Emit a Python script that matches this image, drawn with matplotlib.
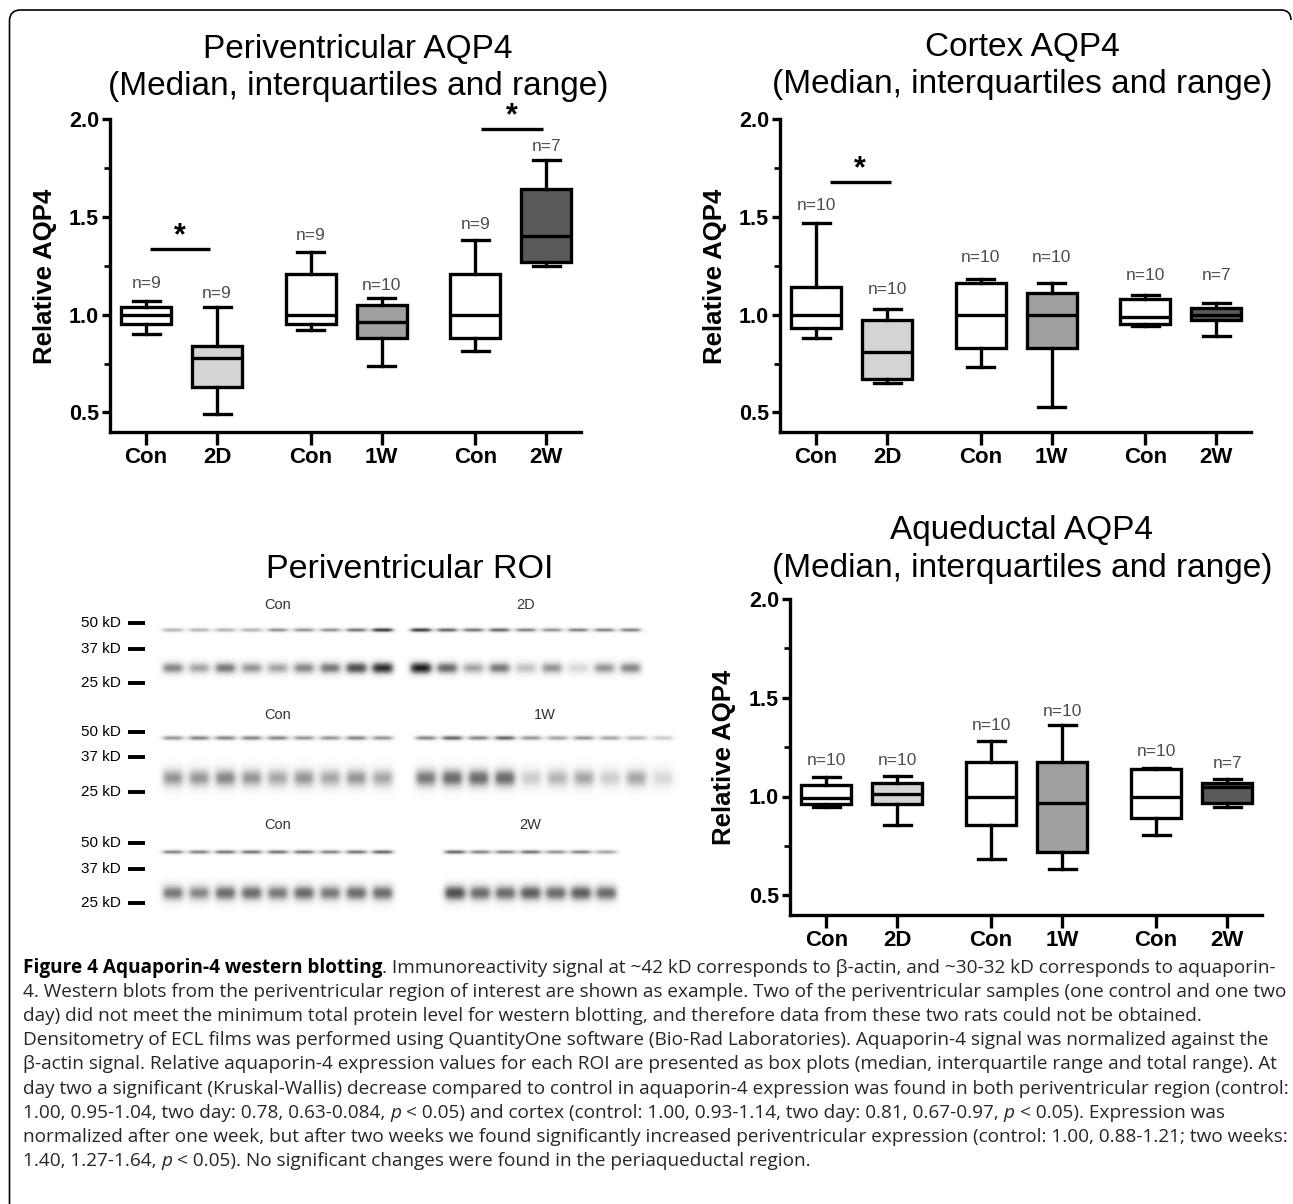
import numpy as np
import matplotlib
matplotlib.use("Agg")
import matplotlib.pyplot as plt
from matplotlib.patches import PathPatch
from matplotlib.path import Path
from matplotlib.transforms import IdentityTransform

# ---- data -------------------------------------------------------------
groups = ['Con', '2D', 'Con', '1W', 'Con', '2W']
fills = ['white', '#d4d4d4', 'white', '#a0a0a0', 'white', '#5a5a5a']

# Periventricular AQP4 (range low, q1, median, q3, range high)
peri_lo = [0.90, 0.49, 0.92, 0.735, 0.815, 1.25]
peri_q1 = [0.95, 0.63, 0.95, 0.88, 0.88, 1.27]
peri_med = [1.00, 0.78, 1.00, 0.96, 1.00, 1.40]
peri_q3 = [1.04, 0.84, 1.21, 1.05, 1.21, 1.64]
peri_hi = [1.07, 1.04, 1.32, 1.085, 1.38, 1.79]
peri_n = [9, 9, 9, 10, 9, 7]

# Cortex AQP4
ctx_lo = [0.88, 0.65, 0.73, 0.53, 0.94, 0.89]
ctx_q1 = [0.93, 0.67, 0.83, 0.83, 0.95, 0.975]
ctx_med = [1.00, 0.81, 1.00, 1.00, 0.99, 1.00]
ctx_q3 = [1.14, 0.97, 1.16, 1.11, 1.08, 1.035]
ctx_hi = [1.47, 1.03, 1.18, 1.16, 1.10, 1.06]
ctx_n = [10, 10, 10, 10, 10, 7]

# Aqueductal AQP4
aq_lo = [0.945, 0.855, 0.685, 0.635, 0.805, 0.945]
aq_q1 = [0.96, 0.96, 0.855, 0.72, 0.89, 0.968]
aq_med = [0.99, 1.015, 1.00, 0.965, 1.00, 1.05]
aq_q3 = [1.06, 1.07, 1.175, 1.175, 1.14, 1.07]
aq_hi = [1.10, 1.105, 1.28, 1.36, 1.145, 1.09]
aq_n = [10, 10, 10, 10, 10, 7]

# western blot band intensities (0 = none, 1 = black), per lane
blot_r1_con_actin = [0.40, 0.40, 0.40, 0.40, 0.50, 0.50, 0.50, 0.60, 0.80]
blot_r1_con_aqp = [0.55, 0.45, 0.60, 0.50, 0.45, 0.55, 0.60, 0.75, 0.85]
blot_r1_2d_actin = [0.80, 0.65, 0.60, 0.65, 0.55, 0.50, 0.55, 0.55, 0.55]
blot_r1_2d_aqp = [0.90, 0.65, 0.45, 0.60, 0.35, 0.50, 0.25, 0.50, 0.55]
blot_r2_con_actin = [0.50, 0.55, 0.55, 0.55, 0.55, 0.50, 0.50, 0.55, 0.50]
blot_r2_con_aqp = [0.50, 0.50, 0.55, 0.50, 0.45, 0.50, 0.45, 0.50, 0.45]
blot_r2_1w_actin = [0.55, 0.65, 0.55, 0.65, 0.50, 0.45, 0.50, 0.45, 0.40, 0.30]
blot_r2_1w_aqp = [0.60, 0.65, 0.65, 0.65, 0.30, 0.40, 0.45, 0.30, 0.45, 0.25]
blot_r3_con_actin = [0.55, 0.55, 0.60, 0.60, 0.60, 0.60, 0.55, 0.60, 0.65]
blot_r3_con_aqp = [0.60, 0.55, 0.65, 0.65, 0.60, 0.65, 0.60, 0.65, 0.65]
blot_r3_2w_actin = [0.65, 0.55, 0.55, 0.60, 0.50, 0.55, 0.45]
blot_r3_2w_aqp = [0.75, 0.65, 0.65, 0.70, 0.65, 0.70, 0.65]
markers = ['50 kD', '37 kD', '25 kD']

# ---- figure -----------------------------------------------------------
W, H = 1293, 1204
fig = plt.figure(figsize=(W / 100, H / 100), dpi=100)
plt.rcParams['font.family'] = ['Liberation Sans', 'DejaVu Sans']
xpos = [1, 2, 3.32, 4.32, 5.64, 6.64]
LW = 2.4


def px_axes(l, t, r, b):
    return fig.add_axes([l / W, 1 - b / H, (r - l) / W, (b - t) / H])


def box_panel(ax, lo, q1, med, q3, hi, nn, ny):
    stats = [dict(whislo=a, q1=b, med=c, q3=d, whishi=e, label=g)
             for a, b, c, d, e, g in zip(lo, q1, med, q3, hi, groups)]
    bp = ax.bxp(stats, positions=xpos, widths=0.7, capwidths=0.38,
                showfliers=False, patch_artist=True,
                boxprops=dict(edgecolor='black', linewidth=LW),
                whiskerprops=dict(color='black', linewidth=LW),
                capprops=dict(color='black', linewidth=LW),
                medianprops=dict(color='black', linewidth=LW))
    for patch, c in zip(bp['boxes'], fills):
        patch.set_facecolor(c)
    for x, n, y in zip(xpos, nn, ny):
        ax.text(x, y, f'n={n}', ha='center', va='center', fontsize=12.5,
                color='#4d4d4d')
    ax.set_xlim(0.49, 7.13)
    ax.set_ylim(0.4, 2.0)
    ax.spines['top'].set_visible(False)
    ax.spines['right'].set_visible(False)
    ax.spines['left'].set_linewidth(LW)
    ax.spines['bottom'].set_linewidth(LW)
    ax.set_yticks([0.5, 1.0, 1.5, 2.0])
    ax.set_yticklabels(['0.5', '1.0', '1.5', '2.0'], fontweight='bold')
    ax.set_yticks([0.75, 1.25, 1.75], minor=True)
    ax.set_xticks(xpos)
    ax.set_xticklabels(groups, fontweight='bold')
    ax.tick_params(axis='x', length=9, width=LW, labelsize=16, pad=2)
    ax.tick_params(axis='y', which='major', length=6, width=LW,
                   labelsize=15.5, pad=2)
    ax.tick_params(axis='y', which='minor', length=4, width=LW * 0.8)


def sig_bar(ax, x0, x1, y, ys):
    ax.plot([x0, x1], [y, y], color='black', lw=LW, clip_on=False,
            solid_capstyle='butt')
    ax.text((x0 + x1) / 2, ys, '*', ha='center', va='center', fontsize=22,
            fontweight='bold', clip_on=False)


# Periventricular
ax1 = px_axes(110, 119, 581, 432)
box_panel(ax1, peri_lo, peri_q1, peri_med, peri_q3, peri_hi, peri_n,
          [1.16, 1.107, 1.405, 1.15, 1.46, 1.86])
sig_bar(ax1, 1.05, 1.90, 1.335, 1.40)
sig_bar(ax1, 5.72, 6.59, 1.95, 2.015)

# Cortex
ax2 = px_axes(780, 119, 1251, 432)
box_panel(ax2, ctx_lo, ctx_q1, ctx_med, ctx_q3, ctx_hi, ctx_n,
          [1.56, 1.13, 1.29, 1.29, 1.20, 1.20])
sig_bar(ax2, 1.19, 2.05, 1.68, 1.745)

# Aqueductal
ax3 = px_axes(790, 599, 1262, 915)
box_panel(ax3, aq_lo, aq_q1, aq_med, aq_q3, aq_hi, aq_n,
          [1.18, 1.18, 1.36, 1.43, 1.226, 1.167])

# titles / y labels
title2 = '(Median, interquartiles and range)'
for cx, y1, y2, t1 in [(358, 50, 86, 'Periventricular AQP4'),
                       (1022, 48, 85, 'Cortex AQP4'),
                       (1022, 530, 568, 'Aqueductal AQP4')]:
    fig.text(cx / W, 1 - y1 / H, t1, ha='center', va='center', fontsize=24)
    fig.text(cx / W, 1 - y2 / H, title2, ha='center', va='center',
             fontsize=24)
for x, y in [(45, 276), (715, 276), (724, 757)]:
    fig.text(x / W, 1 - y / H, 'Relative AQP4', rotation=90, ha='center',
             va='center', fontsize=18.5, fontweight='bold')

# ---- western blot ----------------------------------------------------
axb = px_axes(20, 545, 690, 930)
axb.axis('off')
axb.text(410, 570, 'Periventricular ROI', ha='center', va='center',
         fontsize=24.5)

bx0, bx1, by0, by1 = 150, 690, 590, 915
X, Y = np.meshgrid(np.arange(bx0, bx1) + 0.5, np.arange(by0, by1) + 0.5)
img = np.zeros_like(X)


def lanes(start, step, actin, aqp, y_act, y_aqp, s_act, s_aqp):
    global img
    for i, (a, q) in enumerate(zip(actin, aqp)):
        cx = start + i * step
        hx = np.exp(-((X - cx) / 11.5) ** 4)
        img += a * hx * np.exp(-0.5 * ((Y - y_act) / s_act) ** 2)
        img += q * hx * np.exp(-0.5 * ((Y - y_aqp) / s_aqp) ** 2)


rows = [
    (605, [623, 649, 683], 630, 668, 1.6, 4.5,
     [('Con', 173, 26.2, blot_r1_con_actin, blot_r1_con_aqp),
      ('2D', 421, 26.2, blot_r1_2d_actin, blot_r1_2d_aqp)]),
    (715, [732, 757, 792], 738, 778, 1.8, 7.0,
     [('Con', 173, 26.2, blot_r2_con_actin, blot_r2_con_aqp),
      ('1W', 426, 26.3, blot_r2_1w_actin, blot_r2_1w_aqp)]),
    (825, [843, 869, 903], 852, 893, 1.6, 6.0,
     [('Con', 173, 26.2, blot_r3_con_actin, blot_r3_con_aqp),
      ('2W', 455, 25.2, blot_r3_2w_actin, blot_r3_2w_aqp)]),
]
for ylab, mk_y, y_act, y_aqp, s_act, s_aqp, grp in rows:
    for lab, start, step, act, aqp in grp:
        lanes(start, step, act, aqp, y_act, y_aqp, s_act, s_aqp)
        mid = start + step * (len(act) - 1) / 2
        axb.text(mid, ylab, lab, ha='center', va='center', fontsize=10.5,
                 color='#333333')
    for m, my in zip(markers, mk_y):
        axb.text(121, my, m, ha='right', va='center', fontsize=11)
        axb.plot([128, 145], [my, my], color='black', lw=2.8,
                 solid_capstyle='butt')

axb.imshow(np.clip(img, 0, 1), cmap='Greys', vmin=0, vmax=1,
           extent=(bx0, bx1, by1, by0), interpolation='bilinear',
           aspect='auto', zorder=0)
axb.set_xlim(20, 690)
axb.set_ylim(930, 545)

# ---- caption ---------------------------------------------------------
cap_font = ['Open Sans', 'DejaVu Sans']
R = 'r'
B = 'b'
I = 'i'
caption = [
    [('Figure 4 Aquaporin-4 western blotting', B),
     ('. Immunoreactivity signal at ~42 kD corresponds to \u03b2-actin, and '
      '~30-32 kD corresponds to aquaporin-', R)],
    [('4. Western blots from the periventricular region of interest are shown '
      'as example. Two of the periventricular samples (one control and one '
      'two', R)],
    [('day) did not meet the minimum total protein level for western '
      'blotting, and therefore data from these two rats could not be '
      'obtained.', R)],
    [('Densitometry of ECL films was performed using QuantityOne software '
      '(Bio-Rad Laboratories). Aquaporin-4 signal was normalized against '
      'the', R)],
    [('\u03b2-actin signal. Relative aquaporin-4 expression values for each '
      'ROI are presented as box plots (median, interquartile range and '
      'total range). At', R)],
    [('day two a significant (Kruskal-Wallis) decrease compared to control '
      'in aquaporin-4 expression was found in both periventricular region '
      '(control:', R)],
    [('1.00, 0.95-1.04, two day: 0.78, 0.63-0.084, ', R), ('p', I),
     (' < 0.05) and cortex (control: 1.00, 0.93-1.14, two day: 0.81, '
      '0.67-0.97, ', R), ('p', I), (' < 0.05). Expression was', R)],
    [('normalized after one week, but after two weeks we found significantly '
      'increased periventricular expression (control: 1.00, 0.88-1.21; two '
      'weeks:', R)],
    [('1.40, 1.27-1.64, ', R), ('p', I),
     (' < 0.05). No significant changes were found in the periaqueductal '
      'region.', R)],
]

renderer = fig.canvas.get_renderer()
probe = fig.text(0, 0, caption[1][0][0], fontsize=12, family=cap_font)
fs = 12 * 1255 / probe.get_window_extent(renderer).width
probe.remove()


def width_of(s, **kw):
    t = fig.text(0, 0, s, fontsize=fs, family=cap_font, **kw)
    w = t.get_window_extent(renderer).width
    t.remove()
    return w


sp = width_of('a a') - width_of('aa')
x0, y0, dy = 23, 968, 24.1
for k, line in enumerate(caption):
    x = x0
    y = y0 + k * dy
    for txt, st in line:
        kw = dict(fontsize=fs, family=cap_font, color='#262626')
        if st == B:
            kw.update(fontweight='bold', color='black')
        if st == I:
            kw.update(fontstyle='italic')
        x += (len(txt) - len(txt.lstrip(' '))) * sp
        t = fig.text(x / W, 1 - y / H, txt.strip(), ha='left', va='center',
                     **kw)
        x += t.get_window_extent(renderer).width
        x += (len(txt) - len(txt.rstrip(' '))) * sp

# outer frame: left edge and top edge with rounded corners (display pixels)
top = H - 10
frame = Path([(9.5, 0), (9.5, top - 11), (9.5, top), (20.5, top),
              (1281, top), (1291, top), (1291, top - 10)],
             [Path.MOVETO, Path.LINETO, Path.CURVE3, Path.CURVE3,
              Path.LINETO, Path.CURVE3, Path.CURVE3])
fig.add_artist(PathPatch(frame, fill=False, edgecolor='black', linewidth=1.2,
                         transform=IdentityTransform()))

fig.savefig('out.png', dpi=100)
